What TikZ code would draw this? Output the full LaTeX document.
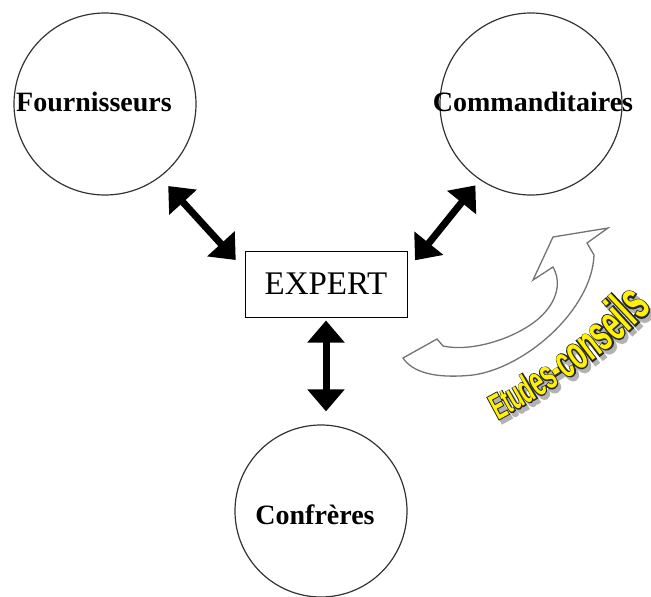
\documentclass[tikz,border=0pt]{standalone}
\usepackage{fontspec}
\setmainfont{Liberation Serif}
\newfontfamily\etfont[FakeStretch=0.55]{Liberation Sans Bold}
\newfontfamily\etfontthick[FakeStretch=0.55,FakeBold=5]{Liberation Sans Bold}
\usetikzlibrary{arrows.meta,decorations.text}

% 字体格式 (黄色, 轮廓, 阴影)
\newcommand\etyel[1]{\etfont\color{yellow}\fontsize{#1}{#1}\selectfont}
\newcommand\etblk[1]{\etfontthick\color{black!85}\fontsize{#1}{#1}\selectfont}
\newcommand\etsha[1]{\etfontthick\color{black!30}\fontsize{#1}{#1}\selectfont}

\begin{document}
\begin{tikzpicture}[x=1pt, y=-1pt]
    % 设置样式
    \tikzset{
        ring/.style={circle, draw=black!80, line width=1.2pt, minimum size=182pt, inner sep=0pt},
        ringlabel/.style={inner sep=0pt, font=\fontsize{28}{30}\selectfont\bfseries},
        expertbox/.style={rectangle, draw, line width=1pt, minimum width=162pt, minimum height=66pt, font=\fontsize{33}{36}\selectfont},
        biarrow/.style={line width=7pt, {Triangle[length=22pt, width=36pt]}-{Triangle[length=22pt, width=36pt]}},
        sweep/.style={draw=black!55, line width=1.3pt, fill=white},
    }

    % 隐藏坐标轴
    \path[use as bounding box] (0,0) rectangle (651,597);

    % 三个圆 (外部伙伴)
    \node[ring] (fourn) at (105,104) {};
    \node[ring] (comm) at (531,104) {};
    \node[ring, minimum size=172pt] (conf) at (321,511) {};
    \node[ringlabel] (fourn-t) at (94,102) {Fournisseurs};
    \node[ringlabel] (comm-t) at (533,102) {Commanditaires};
    \node[ringlabel] (conf-t) at (315,515) {Confrères};

    % 中间的方框
    \node[expertbox] (expert) at (326,284) {EXPERT};

    % 双向箭头
    \draw[biarrow, shorten <=12pt, shorten >=13pt] (fourn.-53) -- (expert.170);
    \draw[biarrow, shorten <=7pt, shorten >=12pt] (comm.-124) -- (expert.10);
    \draw[biarrow, shorten <=3pt, shorten >=13pt] (expert.south) -- (expert.south |- conf.north);

    % 弯曲的空心箭头
    \draw[sweep] (608,228) -- (553,237) -- (533,280) -- (553,267)
        .. controls (563,285) and (555,305) .. (537,320)
        .. controls (512,340) and (470,352) .. (443,346)
        -- (437,339) -- (403,358)
        .. controls (415,376) and (445,378) .. (473,375)
        .. controls (525,368) and (592,310) .. (594,255)
        -- (587,243) -- cycle;

    % 沿曲线的文字 (阴影, 轮廓, 黄色)
    \path[decorate, shift={(3,4)}, decoration={text along path,
        text={|\etsha{36}|Et|\etsha{39}|ud|\etsha{42}|es|\etsha{45}|-c|\etsha{48}|on|\etsha{51}|se|\etsha{54}|il|\etsha{56}|s}}]
        (498,420) .. controls (551,392) and (615,351) .. (662,298);
    \path[decorate, decoration={text along path,
        text={|\etblk{36}|Et|\etblk{39}|ud|\etblk{42}|es|\etblk{45}|-c|\etblk{48}|on|\etblk{51}|se|\etblk{54}|il|\etblk{56}|s}}]
        (498,420) .. controls (551,392) and (615,351) .. (662,298);
    \path[decorate, decoration={text along path,
        text={|\etyel{36}|Et|\etyel{39}|ud|\etyel{42}|es|\etyel{45}|-c|\etyel{48}|on|\etyel{51}|se|\etyel{54}|il|\etyel{56}|s}}]
        (498,420) .. controls (551,392) and (615,351) .. (662,298);
\end{tikzpicture}
\end{document}
